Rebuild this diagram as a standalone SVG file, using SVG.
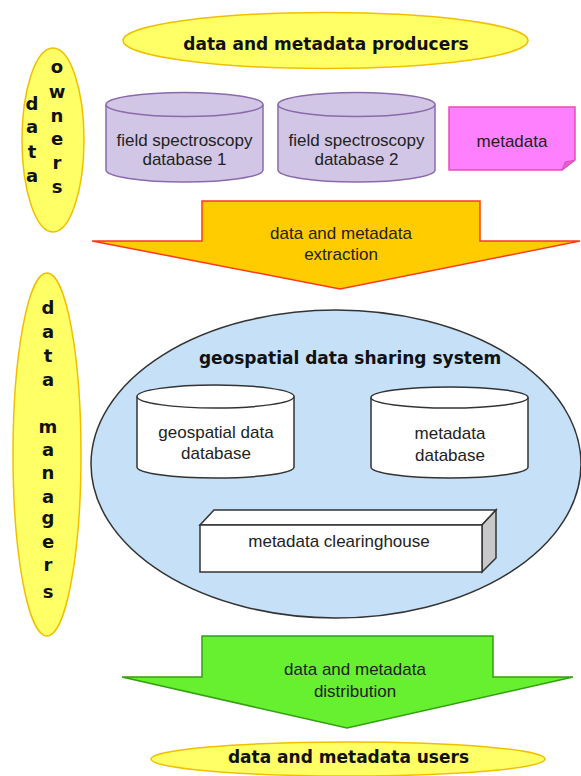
<svg xmlns="http://www.w3.org/2000/svg" width="581" height="776" viewBox="0 0 581 776">
<style>
.bold{font-family:"DejaVu Sans",Verdana,sans-serif;font-weight:bold;font-size:17px;fill:#111;text-anchor:middle}
.vl{font-family:"DejaVu Sans",Verdana,sans-serif;font-weight:bold;font-size:18px;fill:#111;text-anchor:middle}
.reg{font-family:"Liberation Sans",Arial,sans-serif;font-size:17px;fill:#222;text-anchor:middle}
.yel{fill:#ffff66;stroke:#f0c000;stroke-width:1.5}
.lav{fill:#d2c6e6;stroke:#8a6aaa;stroke-width:1.5}
.wcyl{fill:#ffffff;stroke:#333;stroke-width:1.5}
</style>
<rect width="581" height="776" fill="#ffffff"/>

<g id="producers">
<ellipse class="yel" cx="325.5" cy="40.5" rx="202.5" ry="28"/>
<text class="bold" x="326" y="50">data and metadata producers</text>
</g>

<g id="data-owners">
<ellipse class="yel" cx="53" cy="140" rx="31" ry="92"/>
<text class="vl" x="32" y="110">d</text>
<text class="vl" x="32" y="133">a</text>
<text class="vl" x="32" y="158">t</text>
<text class="vl" x="32" y="182">a</text>
<text class="vl" x="57" y="73">o</text>
<text class="vl" x="57" y="98">w</text>
<text class="vl" x="57" y="122">n</text>
<text class="vl" x="57" y="145">e</text>
<text class="vl" x="57" y="169">r</text>
<text class="vl" x="57" y="193">s</text>
</g>

<g id="fsdb1">
<path class="lav" d="M106,104.5 V170 A78.5,12 0 0 0 263,170 V104.5"/>
<ellipse class="lav" cx="184.5" cy="104.5" rx="78.5" ry="12"/>
<text class="reg" x="184.5" y="146">field spectroscopy</text>
<text class="reg" x="184.5" y="165">database 1</text>
</g>

<g id="fsdb2">
<path class="lav" d="M278,104.5 V170 A78.5,12 0 0 0 435,170 V104.5"/>
<ellipse class="lav" cx="356.5" cy="104.5" rx="78.5" ry="12"/>
<text class="reg" x="356.5" y="146">field spectroscopy</text>
<text class="reg" x="356.5" y="165">database 2</text>
</g>

<g id="metadata-note">
<path d="M449,107 H575 V160 L562,170 H449 Z" fill="#ff80ff" stroke="#e84cb8" stroke-width="1.5"/>
<path d="M575,160 L562,170 L565,162 Z" fill="#e060c8" stroke="#e84cb8" stroke-width="1"/>
<text class="reg" x="512" y="147">metadata</text>
</g>

<g id="extraction">
<polygon points="202,201 480,201 480,241 580,241 340,289 92,241 202,241" fill="#ffcc00" stroke="#ff3a1a" stroke-width="1.5"/>
<text class="reg" x="341" y="239">data and metadata</text>
<text class="reg" x="341" y="260">extraction</text>
</g>

<g id="data-managers">
<ellipse class="yel" cx="47" cy="454.5" rx="34" ry="181.5"/>
<text class="vl" x="48" y="314">d</text>
<text class="vl" x="48" y="338">a</text>
<text class="vl" x="48" y="362">t</text>
<text class="vl" x="48" y="386">a</text>
<text class="vl" x="48" y="433">m</text>
<text class="vl" x="48" y="456">a</text>
<text class="vl" x="48" y="479">n</text>
<text class="vl" x="48" y="503">a</text>
<text class="vl" x="48" y="524">g</text>
<text class="vl" x="48" y="548">e</text>
<text class="vl" x="48" y="571">r</text>
<text class="vl" x="48" y="598">s</text>
</g>

<g id="sharing-system">
<ellipse cx="336" cy="464" rx="245" ry="154" fill="#c6e0f8" stroke="#333" stroke-width="1.5"/>
<text class="bold" x="350" y="364">geospatial data sharing system</text>
</g>

<g id="geodb">
<path class="wcyl" d="M137,396.5 V467 A78.5,11 0 0 0 294,467 V396.5"/>
<ellipse class="wcyl" cx="215.5" cy="396.5" rx="78.5" ry="11.5"/>
<text class="reg" x="216" y="438">geospatial data</text>
<text class="reg" x="216" y="459">database</text>
</g>

<g id="metadb">
<path class="wcyl" d="M371,397.5 V467 A78.5,11 0 0 0 528,467 V397.5"/>
<ellipse class="wcyl" cx="449.5" cy="397.5" rx="78.5" ry="10.5"/>
<text class="reg" x="450" y="439">metadata</text>
<text class="reg" x="450" y="461">database</text>
</g>

<g id="clearinghouse">
<polygon points="200,525 214,510 496,510 482,525" fill="#ffffff" stroke="#333" stroke-width="1.5"/>
<polygon points="482,525 496,510 496,558 482,572" fill="#c8c8c8" stroke="#333" stroke-width="1.5"/>
<rect x="200" y="525" width="282" height="47" fill="#ffffff" stroke="#333" stroke-width="1.5"/>
<text class="reg" x="339" y="547">metadata clearinghouse</text>
</g>

<g id="distribution">
<polygon points="202,636 493,636 493,677 573,677 347,728 122,677 202,677" fill="#66f030" stroke="#33a010" stroke-width="1.5"/>
<text class="reg" x="355" y="675">data and metadata</text>
<text class="reg" x="355" y="697">distribution</text>
</g>

<g id="users">
<ellipse class="yel" cx="348" cy="759" rx="197" ry="17"/>
<text class="bold" x="348.5" y="763">data and metadata users</text>
</g>

<g id="connectors"></g>
</svg>
